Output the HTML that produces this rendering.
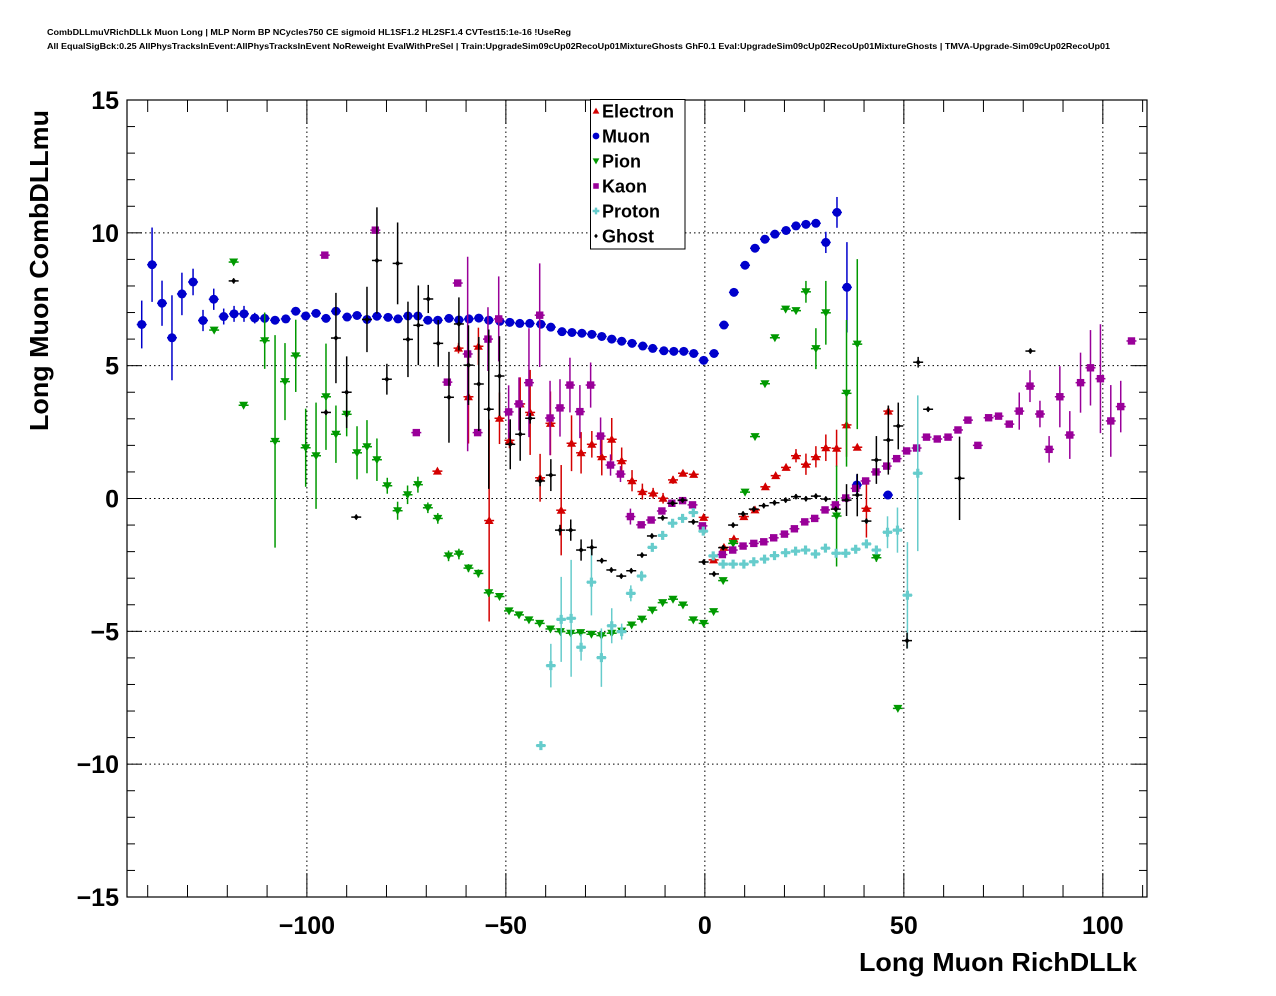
<!DOCTYPE html>
<html><head><meta charset="utf-8"><style>
html,body{margin:0;padding:0;background:#fff;}
svg{display:block;font-family:"Liberation Sans",Arial,sans-serif;}
</style></head><body>
<svg id="chart" width="1276" height="996" viewBox="0 0 1276 996" xmlns="http://www.w3.org/2000/svg">
<rect x="0" y="0" width="1276" height="996" fill="#fff"/>
<text x="47" y="35" font-size="8.5" font-weight="bold" textLength="524" lengthAdjust="spacingAndGlyphs">CombDLLmuVRichDLLk Muon Long | MLP Norm BP NCycles750 CE sigmoid HL1SF1.2 HL2SF1.4 CVTest15:1e-16 !UseReg</text>
<text x="47" y="49" font-size="8.5" font-weight="bold" textLength="1063" lengthAdjust="spacingAndGlyphs">All EqualSigBck:0.25 AllPhysTracksInEvent:AllPhysTracksInEvent NoReweight EvalWithPreSel | Train:UpgradeSim09cUp02RecoUp01MixtureGhosts GhF0.1 Eval:UpgradeSim09cUp02RecoUp01MixtureGhosts | TMVA-Upgrade-Sim09cUp02RecoUp01</text>
<g id="grid"></g>
<g id="axes"></g>
<g id="marks"></g>
<text x="859" y="971" font-size="26" font-weight="bold" textLength="278" lengthAdjust="spacingAndGlyphs">Long Muon RichDLLk</text>
<text transform="translate(48,431) rotate(-90)" font-size="26" font-weight="bold" textLength="321" lengthAdjust="spacingAndGlyphs">Long Muon CombDLLmu</text>
<g id="legend"></g>
</svg>
<script>
// ---- data (x, y, yerr) ----
const xTicks=[-100,-50,0,50,100];
const xTickLabels=["\u2212100","\u221250","0","50","100"];
const yTicks=[-15,-10,-5,0,5,10,15];
const yTickLabels=["\u221215","\u221210","\u22125","0","5","10","15"];
const seriesNames=["Electron","Muon","Pion","Kaon","Proton","Ghost"];

const muonX=[-141.5,-138.9,-136.4,-133.9,-131.4,-128.6,-126.1,-123.4,-120.9,-118.3,-115.8,-113.1,-110.6,-108.0,-105.3,-102.8,-100.3,-97.7,-95.2,-92.7,-89.9,-87.4,-84.9,-82.4,-79.6,-77.1,-74.6,-72.1,-69.6,-67.1,-64.3,-61.8,-59.3,-56.8,-54.3,-51.5,-49.0,-46.5,-44.0,-41.2,-38.7,-35.9,-33.4,-30.9,-28.4,-25.9,-23.4,-20.9,-18.3,-15.6,-13.1,-10.3,-7.8,-5.3,-2.8,-0.3,2.3,4.8,7.3,10.1,12.6,15.1,17.6,20.4,22.9,25.4,27.9,30.4,33.2,35.7,38.2,46.0];
const muonY=[6.55,8.8,7.35,6.05,7.7,8.15,6.7,7.5,6.85,6.95,6.95,6.79,6.78,6.71,6.76,7.05,6.87,6.97,6.78,7.05,6.83,6.89,6.74,6.86,6.82,6.76,6.87,6.87,6.71,6.71,6.78,6.72,6.76,6.79,6.71,6.67,6.63,6.59,6.59,6.56,6.45,6.28,6.25,6.22,6.18,6.1,6.0,5.92,5.84,5.74,5.65,5.56,5.54,5.54,5.46,5.2,5.46,6.53,7.76,8.78,9.42,9.76,9.95,10.09,10.26,10.32,10.36,9.64,10.77,7.95,0.51,0.13];
const muonE=[0.9,1.4,0.85,1.6,0.8,0.5,0.4,0.4,0.3,0.3,0.3,0.2,0.2,0.1,0.1,0.1,0.1,0.1,0.1,0.1,0.1,0.1,0.1,0.1,0.1,0.1,0.1,0.1,0.1,0.1,0.1,0.1,0.1,0.1,0.1,0.1,0.1,0.1,0.1,0.1,0.1,0.1,0.1,0.1,0.1,0.1,0.1,0.1,0.1,0.1,0.1,0.1,0.1,0.1,0.1,0.1,0.1,0.1,0.1,0.1,0.1,0.1,0.1,0.1,0.1,0.1,0.1,0.4,0.58,1.7,0.4,0.1];

const pionX=[-118.4,-123.3,-115.9,-110.6,-108.0,-105.5,-102.8,-100.3,-97.7,-95.2,-92.7,-90.0,-87.4,-84.9,-82.4,-79.8,-77.2,-74.7,-72.1,-69.6,-67.1,-64.4,-61.8,-59.4,-56.9,-54.3,-51.6,-49.2,-46.7,-44.2,-41.5,-38.8,-36.3,-33.7,-31.2,-28.5,-26.0,-23.4,-20.9,-18.4,-15.8,-13.2,-10.6,-8.0,-5.5,-2.9,-0.3,2.2,4.6,7.1,10.1,12.6,15.1,17.6,20.3,22.9,25.4,27.9,30.4,33.1,35.6,38.3,43.1,48.5];
const pionY=[8.9,6.34,3.51,5.94,2.15,4.4,5.37,1.91,1.61,3.83,2.42,3.17,1.72,1.95,1.46,0.48,-0.46,0.14,0.52,-0.35,-0.75,-2.16,-2.09,-2.62,-2.82,-3.55,-3.69,-4.23,-4.38,-4.57,-4.7,-4.91,-5.01,-5.07,-5.05,-5.11,-5.16,-5.07,-4.99,-4.76,-4.54,-4.2,-3.92,-3.79,-4.01,-4.57,-4.7,-4.26,-3.09,-1.69,0.24,2.33,4.32,6.05,7.13,7.07,7.78,5.64,6.99,-0.66,3.96,5.81,-2.23,-7.9];
const pionE=[0.1,0.1,0.1,1.06,4.0,1.45,1.36,1.47,2.0,2.0,1.08,0.83,1.0,1.0,0.8,0.3,0.34,0.35,0.3,0.2,0.2,0.2,0.2,0.15,0.15,0.15,0.1,0.1,0.1,0.1,0.1,0.1,0.1,0.1,0.1,0.1,0.1,0.1,0.1,0.1,0.1,0.1,0.1,0.1,0.1,0.1,0.1,0.1,0.1,0.1,0.1,0.1,0.1,0.1,0.1,0.1,0.41,0.77,1.2,1.9,2.76,3.2,0.15,0.1];

const elecX=[-67.2,-61.9,-59.4,-56.9,-54.2,-51.6,-49.1,-46.4,-43.9,-41.4,-38.8,-36.1,-33.5,-31.1,-28.4,-25.9,-23.4,-20.9,-18.3,-15.7,-13.0,-10.5,-8.0,-5.5,-2.8,-0.3,2.2,4.8,7.3,9.8,12.6,15.2,17.8,20.4,22.9,25.4,27.9,30.4,33.1,35.6,38.3,40.6,46.1];
const elecY=[1.03,5.66,3.83,5.73,-0.83,3.02,2.19,3.56,3.24,0.78,2.83,-0.44,2.08,1.72,2.04,1.57,2.23,1.42,0.67,0.26,0.2,0.01,0.7,0.95,0.91,-0.71,-2.31,-1.84,-1.52,-0.68,-0.43,0.44,0.86,1.17,1.61,1.29,1.57,1.91,1.89,2.77,1.93,-0.37,3.29];
const elecE=[0.1,0.2,1.76,0.7,3.8,0.97,0.3,1.0,1.6,0.9,1.2,1.7,1.05,0.78,0.5,0.7,0.8,0.5,0.4,0.3,0.2,0.2,0.15,0.1,0.1,0.1,0.1,0.1,0.1,0.1,0.1,0.1,0.1,0.1,0.25,0.4,0.4,0.5,0.7,1.2,0.1,1.1,0.2];

const kaonX=[-95.5,-82.8,-72.5,-64.7,-62.1,-59.6,-57.1,-54.5,-51.8,-49.3,-46.7,-44.2,-41.5,-38.9,-36.4,-33.9,-31.4,-28.7,-26.2,-23.7,-21.2,-18.7,-16.0,-13.5,-10.8,-8.3,-5.6,-3.1,-0.6,4.4,7.0,9.6,12.3,14.8,17.3,20.0,22.5,25.1,27.6,30.2,32.8,35.4,37.9,40.4,43.0,45.7,48.2,50.7,53.2,55.7,58.4,61.1,63.6,66.1,68.6,71.3,73.8,76.5,79.0,81.7,84.2,86.5,89.2,91.7,94.4,96.9,99.4,102.0,104.5,107.2];
const kaonY=[9.16,10.1,2.48,4.38,8.11,5.44,2.48,6.0,6.76,3.26,3.56,4.36,6.9,3.03,3.41,4.27,3.27,4.27,2.35,1.26,0.92,-0.68,-0.99,-0.81,-0.47,-0.18,-0.08,-0.24,-1.03,-2.11,-1.94,-1.79,-1.69,-1.63,-1.48,-1.34,-1.14,-0.88,-0.75,-0.43,-0.24,0.02,0.38,0.66,1.0,1.22,1.5,1.79,1.9,2.31,2.24,2.31,2.58,2.95,2.0,3.04,3.1,2.8,3.29,4.23,3.18,1.85,3.83,2.39,4.36,4.92,4.51,2.92,3.46,5.93];
const kaonE=[0.1,0.1,0.1,0.1,0.1,3.66,0.1,1.2,1.6,1.0,1.0,2.05,1.95,1.4,1.08,1.03,1.0,0.85,0.7,0.4,0.3,0.3,0.1,0.1,0.1,0.1,0.1,0.1,0.1,0.1,0.1,0.1,0.1,0.1,0.1,0.1,0.1,0.1,0.1,0.1,0.1,0.1,0.1,0.1,0.1,0.1,0.1,0.1,0.1,0.1,0.1,0.1,0.1,0.1,0.1,0.1,0.1,0.1,0.7,0.6,0.5,0.5,1.15,0.9,1.13,1.42,2.05,1.35,0.97,0.1];

const protX=[-41.2,-38.7,-36.1,-33.6,-31.1,-28.5,-26.0,-23.4,-20.9,-18.6,-15.9,-13.2,-10.6,-8.1,-5.6,-2.9,-0.4,2.1,4.6,7.1,9.8,12.3,15.0,17.5,20.3,22.8,25.3,27.8,30.3,33.0,35.4,37.9,40.6,43.1,45.9,48.4,50.9,53.5];
const protY=[-9.3,-6.29,-4.55,-4.51,-5.6,-3.15,-5.99,-4.79,-5.01,-3.57,-2.92,-1.84,-1.39,-0.93,-0.75,-0.53,-1.23,-2.16,-2.47,-2.47,-2.47,-2.38,-2.28,-2.15,-2.04,-1.98,-1.94,-2.09,-1.87,-2.06,-2.06,-1.91,-1.71,-1.94,-1.27,-1.19,-3.64,0.95];
const protE=[0.1,0.82,1.6,2.2,0.5,1.25,1.1,0.66,0.3,0.3,0.2,0.1,0.1,0.1,0.1,0.1,0.1,0.1,0.1,0.1,0.1,0.1,0.1,0.1,0.1,0.1,0.1,0.1,0.1,0.1,0.1,0.1,0.1,0.1,0.6,0.85,2.0,2.93];

const ghostX=[-118.4,-95.2,-92.7,-90.0,-87.6,-84.9,-82.4,-79.9,-77.2,-74.6,-72.0,-69.5,-67.0,-64.3,-61.8,-59.4,-56.8,-54.3,-51.6,-48.9,-46.4,-43.9,-41.4,-38.7,-36.4,-33.7,-31.1,-28.4,-25.9,-23.5,-21.0,-18.5,-15.8,-13.3,-10.6,-8.1,-5.6,-2.9,-0.3,2.3,4.6,7.1,9.6,12.3,14.8,17.5,20.3,22.9,25.4,27.9,30.4,32.9,35.6,38.3,40.6,43.1,46.1,48.6,50.8,53.6,56.1,64.0,81.8];
const ghostY=[8.19,3.24,6.04,4.0,-0.7,6.74,8.96,4.49,8.85,5.99,6.52,7.51,5.84,3.81,6.57,5.02,4.31,3.36,4.61,2.04,2.42,3.02,0.66,0.88,-1.19,-1.19,-1.94,-1.84,-2.34,-2.69,-2.92,-2.72,-2.13,-1.41,-0.73,-0.18,-0.06,-0.88,-2.39,-2.84,-1.85,-1.0,-0.58,-0.4,-0.27,-0.16,-0.06,0.07,-0.01,0.09,-0.02,-0.4,-0.06,0.13,-0.85,1.45,2.2,2.73,-5.35,5.13,3.36,0.76,5.55];
const ghostE=[0.1,0.1,1.7,1.35,0.1,1.23,2.0,0.58,1.54,1.42,1.5,0.53,0.88,1.71,1.0,1.5,1.77,3.0,1.5,0.94,1.0,0.2,0.2,0.6,0.2,0.4,0.4,0.3,0.1,0.1,0.1,0.1,0.1,0.1,0.1,0.1,0.1,0.1,0.1,0.1,0.1,0.1,0.1,0.1,0.1,0.1,0.1,0.1,0.1,0.1,0.1,0.1,0.6,0.8,0.1,0.9,1.3,0.88,0.3,0.2,0.1,1.57,0.1];

// ---- scales ----
const X0=127,X1=1147,Y0=100,Y1=897;
const xMin=-145.2,xMax=111.1,yMin=-15,yMax=15;
function sx(v){return X0+(v-xMin)/(xMax-xMin)*(X1-X0);}
function sy(v){return Y1-(v-yMin)/(yMax-yMin)*(Y1-Y0);}
const NS="http://www.w3.org/2000/svg";
function mk(tag,attrs,parent){const e=document.createElementNS(NS,tag);for(const k in attrs)e.setAttribute(k,attrs[k]);parent.appendChild(e);return e;}

const grid=document.getElementById('grid');
const axes=document.getElementById('axes');
const marks=document.getElementById('marks');
const legend=document.getElementById('legend');

xTicks.forEach(v=>{const l=mk('line',{x1:sx(v),x2:sx(v),y1:Y0,y2:Y1,stroke:'#000','stroke-width':1,'stroke-dasharray':'1.5,3'},grid);

});
yTicks.slice(1,-1).forEach(v=>{const l=mk('line',{x1:X0,x2:X1,y1:sy(v),y2:sy(v),stroke:'#000','stroke-width':1,'stroke-dasharray':'1.5,3'},grid);

});

const fr=mk('rect',{x:X0,y:Y0,width:X1-X0,height:Y1-Y0,fill:'none',stroke:'#000','stroke-width':1.2},axes);



for(let v=-15;v<=15;v++){const maj=(v%5===0);const L=maj?15:8;const y=sy(v);
const a=mk('line',{x1:X0,x2:X0+L,y1:y,y2:y,stroke:'#000','stroke-width':1},axes);


const b=mk('line',{x1:X1-L,x2:X1,y1:y,y2:y,stroke:'#000','stroke-width':1},axes);

}
yTicks.forEach((v,i)=>{const t=mk('text',{x:X0-8,y:sy(v)+9,'font-size':25,'font-weight':'bold','text-anchor':'end'},axes);t.textContent=yTickLabels[i];

});
for(let v=-140;v<=110;v+=10){const maj=(v%50===0);const L=maj?24:12;const x=sx(v);
const a=mk('line',{x1:x,x2:x,y1:Y1-L,y2:Y1,stroke:'#000','stroke-width':1},axes);


const b=mk('line',{x1:x,x2:x,y1:Y0,y2:Y0+L,stroke:'#000','stroke-width':1},axes);

}
xTicks.forEach((v,i)=>{const t=mk('text',{x:sx(v),y:934,'font-size':25,'font-weight':'bold','text-anchor':'middle'},axes);t.textContent=xTickLabels[i];

});

function marker(type,cx,cy,col,parent,s){
  s=s||1;let e;
  if(type==='tu'){e=mk('polygon',{points:`${cx},${cy-4.5*s} ${cx-4.5*s},${cy+3.5*s} ${cx+4.5*s},${cy+3.5*s}`,fill:col},parent);}
  else if(type==='td'){e=mk('polygon',{points:`${cx},${cy+4.5*s} ${cx-4.5*s},${cy-3.5*s} ${cx+4.5*s},${cy-3.5*s}`,fill:col},parent);}
  else if(type==='c'){e=mk('circle',{cx:cx,cy:cy,r:4.5*s,fill:col},parent);}
  else if(type==='s'){e=mk('rect',{x:cx-3.7*s,y:cy-3.7*s,width:7.4*s,height:7.4*s,fill:col},parent);}
  else if(type==='p'){e=mk('path',{d:`M${cx-1.6*s},${cy-4.5*s}h${3.2*s}v${2.9*s}h${2.9*s}v${3.2*s}h${-2.9*s}v${2.9*s}h${-3.2*s}v${-2.9*s}h${-2.9*s}v${-3.2*s}h${2.9*s}z`,fill:col},parent);}
  else {e=mk('polygon',{points:`${cx},${cy-3*s} ${cx+2.5*s},${cy} ${cx},${cy+3*s} ${cx-2.5*s},${cy}`,fill:col},parent);}
  return e;
}
const series=[
 {name:'electron',type:'tu',col:'#d40000',X:elecX,Y:elecY,E:elecE},
 {name:'muon',type:'c',col:'#0000cc',X:muonX,Y:muonY,E:muonE},
 {name:'pion',type:'td',col:'#009900',X:pionX,Y:pionY,E:pionE},
 {name:'kaon',type:'s',col:'#990099',X:kaonX,Y:kaonY,E:kaonE},
 {name:'proton',type:'p',col:'#66cccc',X:protX,Y:protY,E:protE},
 {name:'ghost',type:'d',col:'#000000',X:ghostX,Y:ghostY,E:ghostE}
];
series.forEach(S=>{
  const g=mk('g',{},marks);
  
  
  S.X.forEach((xv,i)=>{
    const cx=sx(xv),cy=sy(S.Y[i]);
    const h=mk('line',{x1:sx(xv-1.25),x2:sx(xv+1.25),y1:cy,y2:cy,stroke:S.col,'stroke-width':1.5},g);
    
    
    const v=mk('line',{x1:cx,x2:cx,y1:sy(S.Y[i]+S.E[i]),y2:sy(S.Y[i]-S.E[i]),stroke:S.col,'stroke-width':1.5},g);
    
    
    const m=marker(S.type,cx,cy,S.col,g);
    
    
  });
});

const lb=mk('rect',{x:590.5,y:99.5,width:94.5,height:149.5,fill:'#fff',stroke:'#000','stroke-width':1},legend);


series.forEach((S,i)=>{
  const y=111+i*25;
  const g=mk('g',{},legend);
  
  
  marker(S.type,596,y,S.col,g,0.75);
  const t=mk('text',{x:602,y:y+6.5,'font-size':18,'font-weight':'bold'},g);
  t.textContent=seriesNames[i];
});
</script>
</body></html>
